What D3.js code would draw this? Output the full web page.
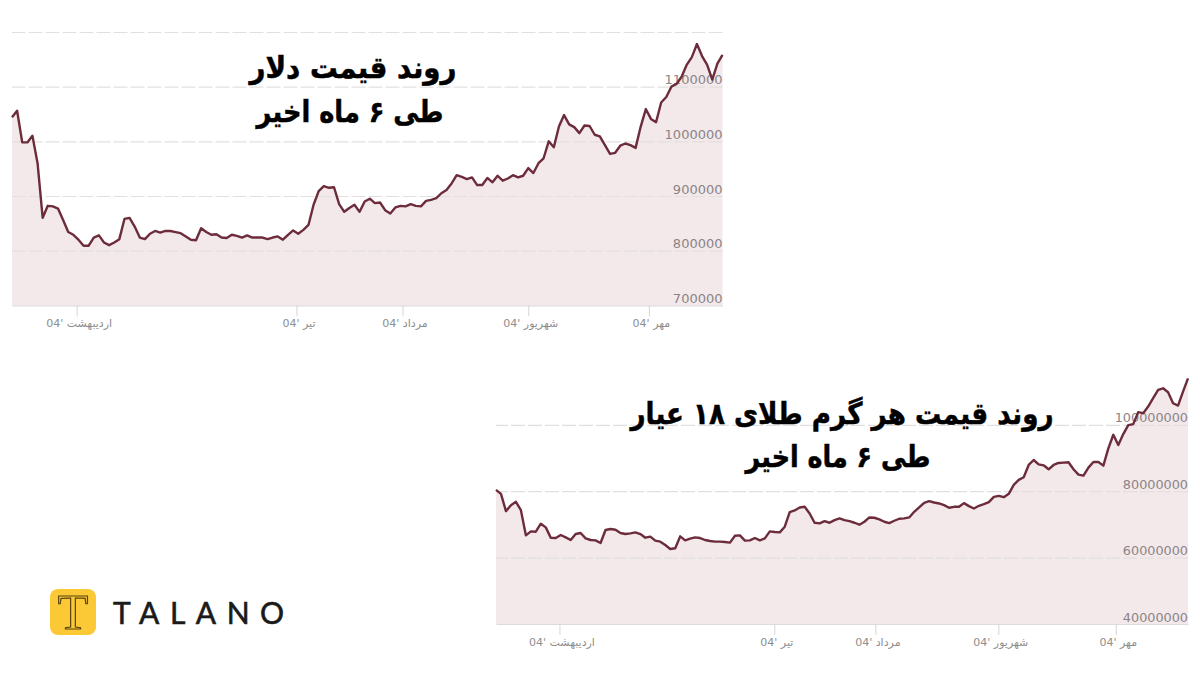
<!DOCTYPE html>
<html>
<head>
<meta charset="utf-8">
<script src="https://cdn.jsdelivr.net/npm/d3@7"></script>
<style>
	html, body {margin: 0; padding: 0; background: #fff;}
	text {font-family: "DejaVu Sans", sans-serif;}
</style>
</head>
<body>
<svg id="chart" width="1200" height="675"></svg>
<script>
// dollar price, in thousands of toman
var dollarValues = [1044, 1056, 998, 998, 1010, 960, 860, 882, 881, 877,
	856, 834, 829, 820, 809, 809, 824, 828, 815, 810,
	815, 821, 858, 860, 844, 824, 821, 831, 836, 833,
	836, 836, 834, 832, 826, 820, 819, 841, 834, 829,
	830, 824, 823, 829, 827, 824, 828, 824, 824, 824,
	821, 824, 826, 820, 829, 837, 831, 838, 847, 884,
	909, 918, 915, 916, 885, 871, 878, 884, 871, 890,
	895, 887, 888, 874, 868, 879, 882, 881, 885, 882,
	881, 891, 893, 896, 905, 911, 923, 938, 935, 931,
	934, 920, 920, 933, 925, 937, 928, 932, 938, 934,
	937, 951, 942, 960, 969, 1000, 989, 1027, 1048, 1031,
	1026, 1015, 1029, 1028, 1012, 1009, 993, 977, 979, 992,
	996, 993, 988, 1027, 1059, 1041, 1035, 1071, 1081, 1100,
	1105, 1118, 1140, 1154, 1178, 1156, 1140, 1113, 1142, 1158];

// 18k gold price per gram, in millions of toman
var goldValues = [80.4, 79.2, 74.0, 75.8, 76.8, 74.3, 66.7, 67.9, 67.8, 70.2,
	69.1, 66.0, 65.9, 66.8, 66.1, 65.3, 67.1, 67.4, 65.8, 65.3,
	65.2, 64.4, 68.3, 68.6, 68.4, 67.4, 67.1, 67.3, 67.6, 67.1,
	66.0, 66.3, 65.1, 64.8, 63.8, 62.6, 62.8, 66.4, 65.2, 65.7,
	66.1, 65.9, 65.3, 65.0, 64.8, 64.8, 64.7, 64.5, 66.6, 66.7,
	65.1, 65.2, 65.9, 65.2, 65.8, 67.9, 67.7, 67.6, 69.3, 73.7,
	74.2, 75.1, 75.3, 73.3, 70.5, 70.3, 71.0, 70.5, 71.3, 71.8,
	71.3, 71.0, 70.5, 69.9, 70.8, 72.1, 72.0, 71.5, 70.8, 70.4,
	71.1, 71.7, 71.8, 72.1, 73.8, 75.1, 76.5, 77.0, 76.6, 76.3,
	75.8, 75.0, 75.3, 75.3, 76.4, 75.5, 74.8, 75.6, 76.1, 76.7,
	78.3, 78.6, 78.2, 79.2, 81.9, 83.4, 84.2, 87.9, 89.4, 88.1,
	87.8, 86.6, 87.9, 88.5, 88.6, 88.7, 86.6, 85.0, 84.7, 87.1,
	88.8, 88.8, 87.7, 92.9, 97.0, 93.9, 97.2, 99.9, 100.2, 103.8,
	103.5, 105.5, 108.0, 110.5, 111.0, 109.8, 106.5, 105.8, 110.0, 114.0];

var monthLabels = ["اردیبهشت '04", "تیر '04", "مرداد '04", "شهریور '04", "مهر '04"];
// where each month starts, counted in data points
var dollarMonthPos = [12.65, 55.65, 76.4, 101, 124.6];
var goldMonthPos = [12.75, 55.9, 76.2, 100.9, 124.5];

var dollarTicks = [700, 800, 900, 1000, 1100];
var dollarGrid = [800, 900, 1000, 1100, 1200];
var goldTicks = [40, 60, 80, 100];
var goldGrid = [60, 80, 100];

var dollarTitle = ["روند قیمت دلار", "طی ۶ ماه اخیر"];
var goldTitle = ["روند قیمت هر گرم طلای ۱۸ عیار", "طی ۶ ماه اخیر"];

var svg = d3.select("#chart");

function draw_chart(opts) {
	var x = d3.scaleLinear()
	.domain([0, opts.values.length - 1])
	.range([opts.left, opts.right]);

	var y = d3.scaleLinear()
	.domain(opts.domain)
	.range([opts.bottom, opts.top]);

	var area = d3.area()
	.x((d, i) => x(i))
	.y0(opts.bottom)
	.y1(d => y(d));

	var line = d3.line()
	.x((d, i) => x(i))
	.y(d => y(d));

	svg.append("path")
	.datum(opts.values)
	.attr("fill", "#f3e9ea")
	.attr("d", area);

	// dashed grid
	var grid = svg.append("g")
	.attr("transform", `translate(${opts.right},0)`)
	.call(d3.axisLeft(y).tickValues(opts.grid).tickSize(opts.right - opts.left).tickFormat(""));
	grid.select(".domain").remove();
	grid.selectAll("line")
	.attr("stroke", "#e3dfdf")
	.attr("stroke-width", 1.2)
	.attr("stroke-dasharray", "14 3");

	// y labels sit just above their grid lines
	var yAxis = svg.append("g")
	.attr("transform", `translate(${opts.right},0)`)
	.call(d3.axisLeft(y).tickValues(opts.ticks).tickSize(0).tickPadding(0)
		.tickFormat(d => d3.format("d")(d * opts.unit)));
	yAxis.select(".domain").remove();
	yAxis.selectAll("text")
	.attr("y", -7)
	.attr("fill", "#8b8486")
	.style("font-size", opts.labelSize + "px")
	.style("font-family", "'DejaVu Sans', sans-serif");

	var xAxis = svg.append("g")
	.attr("transform", `translate(0,${opts.bottom})`)
	.call(d3.axisBottom(x).tickValues(opts.months).tickSize(11).tickSizeOuter(0).tickPadding(3)
		.tickFormat((d, i) => monthLabels[i]));
	xAxis.select(".domain")
	.attr("stroke", "#dcdcdc")
	.attr("stroke-width", 1.2);
	xAxis.selectAll("line").attr("stroke", "#d6d6d6");
	xAxis.selectAll("text")
	.attr("fill", "#8e8e8e")
	.attr("direction", "rtl")
	.attr("dx", 2)
	.style("font-size", "11px")
	.style("font-family", "'DejaVu Sans', sans-serif");

	svg.append("path")
	.datum(opts.values)
	.attr("fill", "none")
	.attr("stroke", "#6d2c3b")
	.attr("stroke-width", 2.4)
	.attr("stroke-linejoin", "round")
	.attr("d", line);

	svg.selectAll(null)
	.data(opts.title)
	.enter().append("text")
	.attr("x", (d, i) => opts.titleX[i])
	.attr("y", (d, i) => opts.titleY[i])
	.attr("text-anchor", "middle")
	.attr("direction", "rtl")
	.attr("fill", "#000")
	.attr("stroke", "#000")
	.attr("stroke-width", 0.5)
	.attr("textLength", (d, i) => opts.titleWidth[i])
	.attr("lengthAdjust", "spacingAndGlyphs")
	.style("font-size", "30px")
	.style("font-weight", "bold")
	.text(d => d);
}

draw_chart({
	values: dollarValues, unit: 1000, domain: [700, 1200],
	left: 12, right: 722.5, top: 32, bottom: 305.3,
	ticks: dollarTicks, grid: dollarGrid, months: dollarMonthPos, labelSize: 13,
	title: dollarTitle, titleX: [353, 350], titleY: [78, 122], titleWidth: [207, 187]
});

draw_chart({
	values: goldValues, unit: 1000000, domain: [40, 120],
	left: 496, right: 1188, top: 358.4, bottom: 624,
	ticks: goldTicks, grid: goldGrid, months: goldMonthPos, labelSize: 12.8,
	title: goldTitle, titleX: [842, 838], titleY: [424, 467], titleWidth: [423, 185]
});

// logo
var logo = svg.append("g");

logo.append("rect")
.attr("x", 50)
.attr("y", 589)
.attr("width", 46)
.attr("height", 46)
.attr("rx", 8)
.attr("fill", "#fcc936");

logo.append("text")
.attr("x", 73)
.attr("y", 629)
.attr("text-anchor", "middle")
.attr("fill", "#fcc936")
.attr("stroke", "#5a4510")
.attr("stroke-width", 1.2)
.style("font-family", "'Liberation Serif', serif")
.style("font-size", "50px")
.text("T");

logo.append("text")
.attr("x", 113)
.attr("y", 624)
.attr("fill", "#1a1a1a")
.attr("stroke", "#1a1a1a")
.attr("stroke-width", 0.6)
.style("font-family", "Lato, sans-serif")
.style("font-size", "30px")
.style("letter-spacing", "10.5px")
.text("TALANO");
</script>
</body>
</html>
